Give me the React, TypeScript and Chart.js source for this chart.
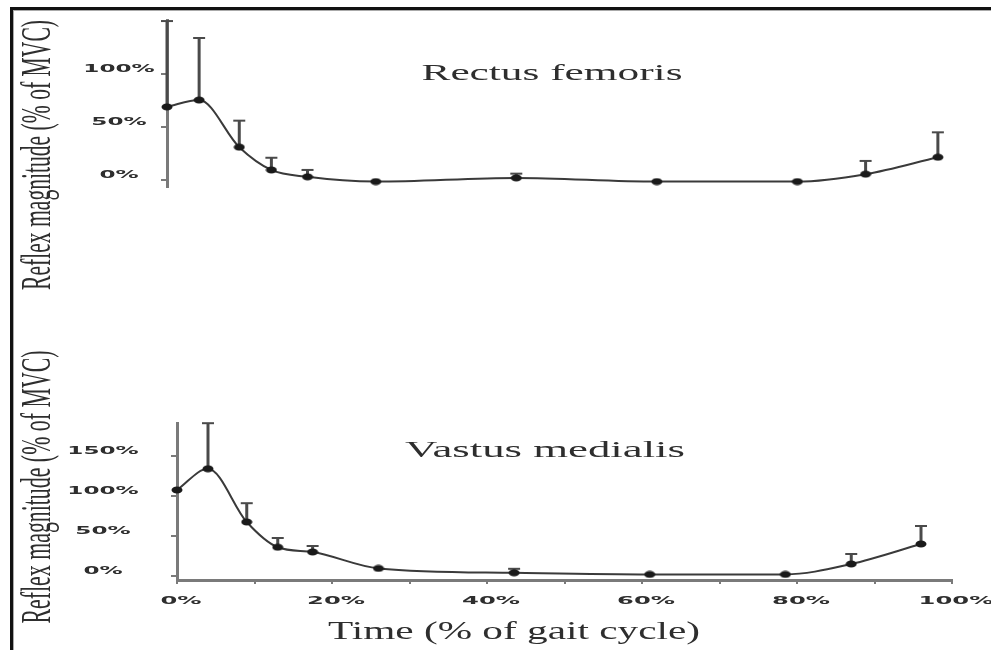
import React, { useEffect, useRef } from "react";
import { Chart, registerables } from "chart.js";

Chart.register(...registerables);

// ---- data ----
const GAIT_PHASE = [0, 4, 9, 13, 17.5, 26, 43.5, 61, 78.5, 87, 96];
const RF_MEAN = [69, 75.5, 31, 9.5, 3, -1.5, 2, -1.5, -1.5, 5.5, 21.5];
const RF_UPPER: (number | null)[] = [150, 134, 56, 21, 9.5, null, 6, null, null, 18, 45];
const VM_MEAN = [107.5, 134, 67.5, 36, 30, 9.5, 4, 2, 2, 15, 40];
const VM_UPPER: (number | null)[] = [null, 191, 91, 47.5, 37.5, null, 9, null, null, 27.5, 62.5];
const RF_Y_TICKS = [0, 50, 100];
const VM_Y_TICKS = [0, 50, 100, 150];
const X_TICKS = [0, 10, 20, 30, 40, 50, 60, 70, 80, 90, 100];
const X_LABELS = [0, 20, 40, 60, 80, 100];
const RF_TITLE = "Rectus femoris";
const VM_TITLE = "Vastus medialis";
const Y_TITLE = "Reflex magnitude (% of MVC)";
const X_TITLE = "Time (% of gait cycle)";

const SERIF = '"Liberation Serif", "Times New Roman", serif';
const TICK_FONT = 'bold 11px "DejaVu Sans", sans-serif';
const TEXT_COLOR = "#2e2e2e";
const LINE_COLOR = "#3a3a3a";
const AXIS_COLOR = "#7a7a7a";

function drawH(ctx: CanvasRenderingContext2D, text: string, cx: number, cy: number, font: string, sx: number | null, width?: number) {
  ctx.save();
  ctx.font = font;
  const w = ctx.measureText(text).width;
  const s = width ? width / w : (sx as number);
  ctx.translate(cx, cy);
  ctx.scale(s, 1);
  ctx.textAlign = "center";
  ctx.textBaseline = "middle";
  ctx.fillStyle = TEXT_COLOR;
  ctx.fillText(text, 0, 0);
  ctx.restore();
}

function drawV(ctx: CanvasRenderingContext2D, text: string, cx: number, cy: number, font: string, glyphScale: number, length: number) {
  ctx.save();
  ctx.font = font;
  const w = ctx.measureText(text).width;
  ctx.translate(cx, cy);
  ctx.scale(glyphScale, 1);
  ctx.rotate(-Math.PI / 2);
  ctx.scale(length / w, 1);
  ctx.textAlign = "center";
  ctx.textBaseline = "middle";
  ctx.fillStyle = TEXT_COLOR;
  ctx.fillText(text, 0, 0);
  ctx.restore();
}

function makeMarker() {
  const mk = document.createElement("canvas");
  mk.width = 12;
  mk.height = 8;
  const c = mk.getContext("2d")!;
  c.fillStyle = "#1a1a1a";
  c.beginPath();
  c.ellipse(6, 4, 5.5, 3.5, 0, 0, Math.PI * 2);
  c.fill();
  return mk;
}

function errorBarPlugin(mean: number[], upper: (number | null)[]) {
  return {
    id: "errorBars",
    beforeDatasetsDraw(chart: any) {
      const { ctx } = chart;
      const x = chart.scales.x;
      const y = chart.scales.y;
      ctx.save();
      ctx.strokeStyle = "#4a4a4a";
      upper.forEach((u, i) => {
        if (u == null) return;
        const px = x.getPixelForValue(GAIT_PHASE[i]);
        const p0 = y.getPixelForValue(mean[i]);
        const p1 = y.getPixelForValue(u);
        ctx.lineWidth = 3;
        ctx.beginPath();
        ctx.moveTo(px, p0);
        ctx.lineTo(px, p1);
        ctx.stroke();
        ctx.lineWidth = 2;
        ctx.beginPath();
        ctx.moveTo(px - 6, p1);
        ctx.lineTo(px + 6, p1);
        ctx.stroke();
      });
      ctx.restore();
    },
  };
}

function yAxis(min: number, max: number, ticks: number[]) {
  return {
    type: "linear",
    min,
    max,
    afterBuildTicks: (s: any) => {
      s.ticks = ticks.map((v) => ({ value: v }));
    },
    afterFit: (s: any) => {
      s.width = 6;
    },
    ticks: { display: false },
    grid: { drawOnChartArea: false, drawTicks: true, tickLength: 6, color: AXIS_COLOR, lineWidth: 2 },
    border: { display: true, color: AXIS_COLOR, width: 3 },
  };
}

function dataset(mean: number[], marker: HTMLCanvasElement) {
  return {
    data: GAIT_PHASE.map((x, i) => ({ x, y: mean[i] })),
    borderColor: LINE_COLOR,
    borderWidth: 2,
    pointStyle: marker,
    pointRadius: 5,
    pointHoverRadius: 5,
    cubicInterpolationMode: "monotone",
    fill: false,
    clip: false,
  };
}

function topConfig(marker: HTMLCanvasElement): any {
  return {
    type: "line",
    data: { datasets: [dataset(RF_MEAN, marker)] },
    options: {
      responsive: false,
      animation: false,
      events: [],
      layout: { padding: { left: 161, top: 20, right: 21, bottom: 463 } },
      plugins: { legend: { display: false }, tooltip: { enabled: false }, title: { display: false } },
      scales: {
        x: { type: "linear", min: 0, max: 100, display: false },
        y: yAxis(-6.6, 151, RF_Y_TICKS),
      },
    },
    plugins: [
      errorBarPlugin(RF_MEAN, RF_UPPER),
      {
        id: "topText",
        afterDraw(chart: any) {
          const { ctx, chartArea } = chart;
          const y = chart.scales.y;
          ctx.save();
          ctx.fillStyle = "#111";
          ctx.fillRect(10, 7, 991 - 10, 3);
          ctx.fillRect(10, 7, 3, 650 - 7);
          ctx.fillStyle = "#aaa";
          ctx.fillRect(13, 10, 991 - 13, 1);
          ctx.fillRect(13, 10, 1, 650 - 10);
          ctx.restore();
          RF_Y_TICKS.forEach((v) => {
            drawH(ctx, v + "%", chartArea.left - 48, y.getPixelForValue(v) - 4.5, TICK_FONT, 2.1);
          });
          drawH(ctx, RF_TITLE, 552, 73.5, "24px " + SERIF, null, 261);
          drawV(ctx, Y_TITLE, 39, 155, "22px " + SERIF, 1.9, 270);
        },
      },
    ],
  };
}

function bottomConfig(marker: HTMLCanvasElement): any {
  return {
    type: "line",
    data: { datasets: [dataset(VM_MEAN, marker)] },
    options: {
      responsive: false,
      animation: false,
      events: [],
      layout: { padding: { left: 171, top: 423, right: 39, bottom: 64 } },
      plugins: { legend: { display: false }, tooltip: { enabled: false }, title: { display: false } },
      scales: {
        x: {
          type: "linear",
          min: 0,
          max: 100,
          afterBuildTicks: (s: any) => {
            s.ticks = X_TICKS.map((v) => ({ value: v }));
          },
          afterFit: (s: any) => {
            s.height = 6;
          },
          ticks: { display: false },
          grid: { drawOnChartArea: false, drawTicks: true, tickLength: 4, color: AXIS_COLOR, lineWidth: 2 },
          border: { display: true, color: AXIS_COLOR, width: 3 },
        },
        y: yAxis(-5, 191.25, VM_Y_TICKS),
      },
    },
    plugins: [
      errorBarPlugin(VM_MEAN, VM_UPPER),
      {
        id: "bottomText",
        afterDraw(chart: any) {
          const { ctx, chartArea } = chart;
          const x = chart.scales.x;
          const y = chart.scales.y;
          VM_Y_TICKS.forEach((v) => {
            drawH(ctx, v + "%", chartArea.left - 74, y.getPixelForValue(v) - 5, TICK_FONT, 2.1);
          });
          X_LABELS.forEach((v) => {
            drawH(ctx, v + "%", x.getPixelForValue(v) + 4, chartArea.bottom + 21, TICK_FONT, 2.2);
          });
          drawH(ctx, VM_TITLE, 545, 451, "24px " + SERIF, null, 280);
          drawH(ctx, X_TITLE, 514, 632, "25px " + SERIF, null, 372);
          drawV(ctx, Y_TITLE, 39, 487, "22px " + SERIF, 1.9, 273);
        },
      },
    ],
  };
}

export default function App() {
  const topRef = useRef<HTMLCanvasElement>(null);
  const botRef = useRef<HTMLCanvasElement>(null);

  useEffect(() => {
    const marker = makeMarker();
    const c1 = new Chart(topRef.current as HTMLCanvasElement, topConfig(marker));
    const c2 = new Chart(botRef.current as HTMLCanvasElement, bottomConfig(marker));
    return () => {
      c1.destroy();
      c2.destroy();
    };
  }, []);

  return (
    <div style={{ position: "absolute", left: 0, top: 0, width: 991, height: 650, background: "#fff", overflow: "hidden" }}>
      <canvas ref={topRef} width={991} height={650} style={{ position: "absolute", left: 0, top: 0 }} />
      <canvas ref={botRef} width={991} height={650} style={{ position: "absolute", left: 0, top: 0 }} />
    </div>
  );
}
